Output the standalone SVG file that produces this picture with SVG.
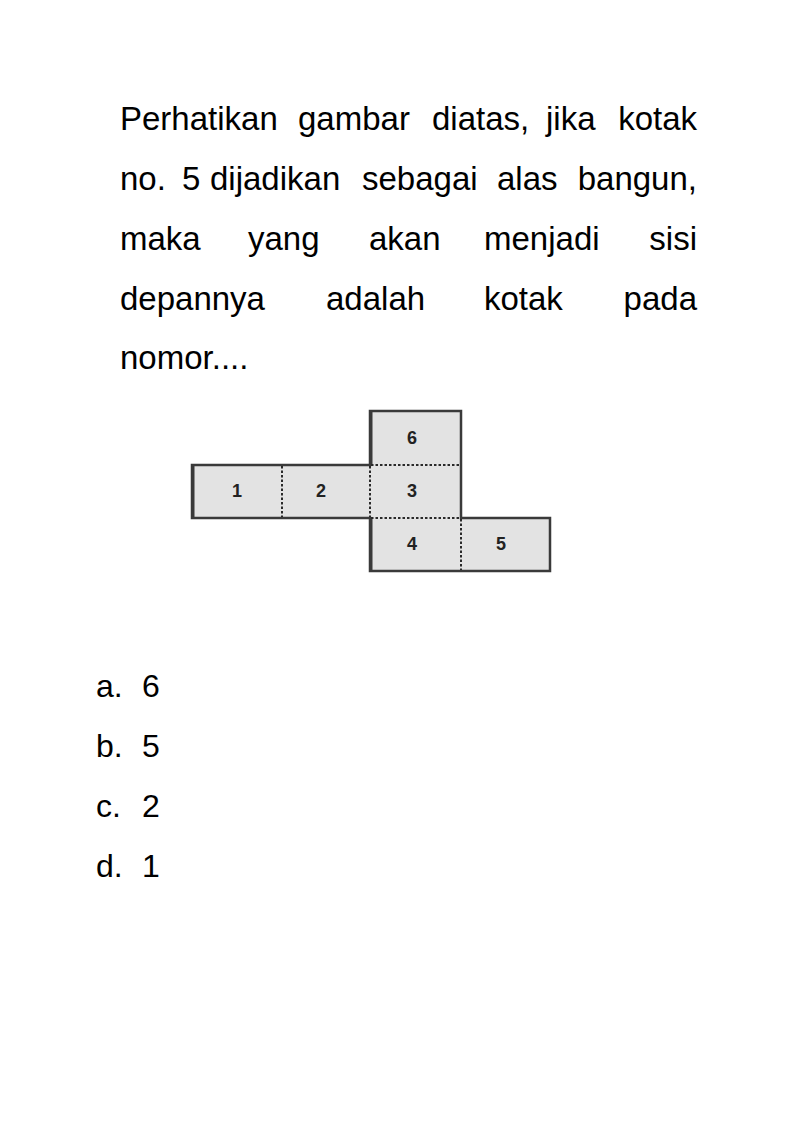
<svg xmlns="http://www.w3.org/2000/svg" width="794" height="1123" viewBox="0 0 794 1123">
<style>
.t{font-family:"Liberation Sans",Arial,sans-serif;font-size:33px;fill:#000}
.a{font-family:"Liberation Sans",Arial,sans-serif;font-size:32px;fill:#000}
.face{fill:#e3e3e3;stroke:none}
.edge{fill:none;stroke:#3a3a3a;stroke-width:2.5}
.fold{fill:none;stroke:#2a2a2a;stroke-width:2;stroke-dasharray:2.5,2}
.num{font-family:"Liberation Sans",Arial,sans-serif;font-size:18px;font-weight:bold;fill:#222;text-anchor:middle}
</style>
<rect width="794" height="1123" fill="#fff"/>
<g id="question">
<text class="t" y="130"><tspan x="120">Perhatikan</tspan><tspan x="298">gambar</tspan><tspan x="432">diatas,</tspan><tspan x="546">jika</tspan><tspan x="697" text-anchor="end">kotak</tspan></text>
<text class="t" y="190"><tspan x="120">no.</tspan><tspan x="182">5</tspan><tspan x="210">dijadikan</tspan><tspan x="362">sebagai</tspan><tspan x="497">alas</tspan><tspan x="697" text-anchor="end">bangun,</tspan></text>
<text class="t" y="250"><tspan x="120">maka</tspan><tspan x="248">yang</tspan><tspan x="369">akan</tspan><tspan x="484">menjadi</tspan><tspan x="697" text-anchor="end">sisi</tspan></text>
<text class="t" y="310"><tspan x="120">depannya</tspan><tspan x="326">adalah</tspan><tspan x="484">kotak</tspan><tspan x="697" text-anchor="end">pada</tspan></text>
<text class="t" y="369" x="120">nomor....</text>
</g>
<g id="net">
<rect class="face" x="192" y="465" width="178" height="53"/>
<rect class="face" x="370" y="411" width="91" height="161"/>
<rect class="face" x="461" y="518" width="89" height="54"/>
<path class="edge" d="M370,465 V411 H461 V518 H550 V571 H370 V518 H192 V465 Z"/>
<path d="M193,465 V518 M371,411 V465 M371,518 V571" stroke="#3a3a3a" stroke-width="3" fill="none"/>
<path class="fold" d="M282,466 V517 M370,466 V517 M371,465 H460 M371,518 H460 M461,519 V570"/>
<text class="num" x="412" y="444">6</text>
<text class="num" x="237" y="497">1</text>
<text class="num" x="321" y="497">2</text>
<text class="num" x="412" y="497">3</text>
<text class="num" x="412" y="550">4</text>
<text class="num" x="501" y="550">5</text>
</g>
<g id="answers">
<text class="a" y="697"><tspan x="96">a.</tspan><tspan x="142">6</tspan></text>
<text class="a" y="757"><tspan x="96">b.</tspan><tspan x="142">5</tspan></text>
<text class="a" y="817"><tspan x="96">c.</tspan><tspan x="142">2</tspan></text>
<text class="a" y="877"><tspan x="96">d.</tspan><tspan x="142">1</tspan></text>
</g>
</svg>
